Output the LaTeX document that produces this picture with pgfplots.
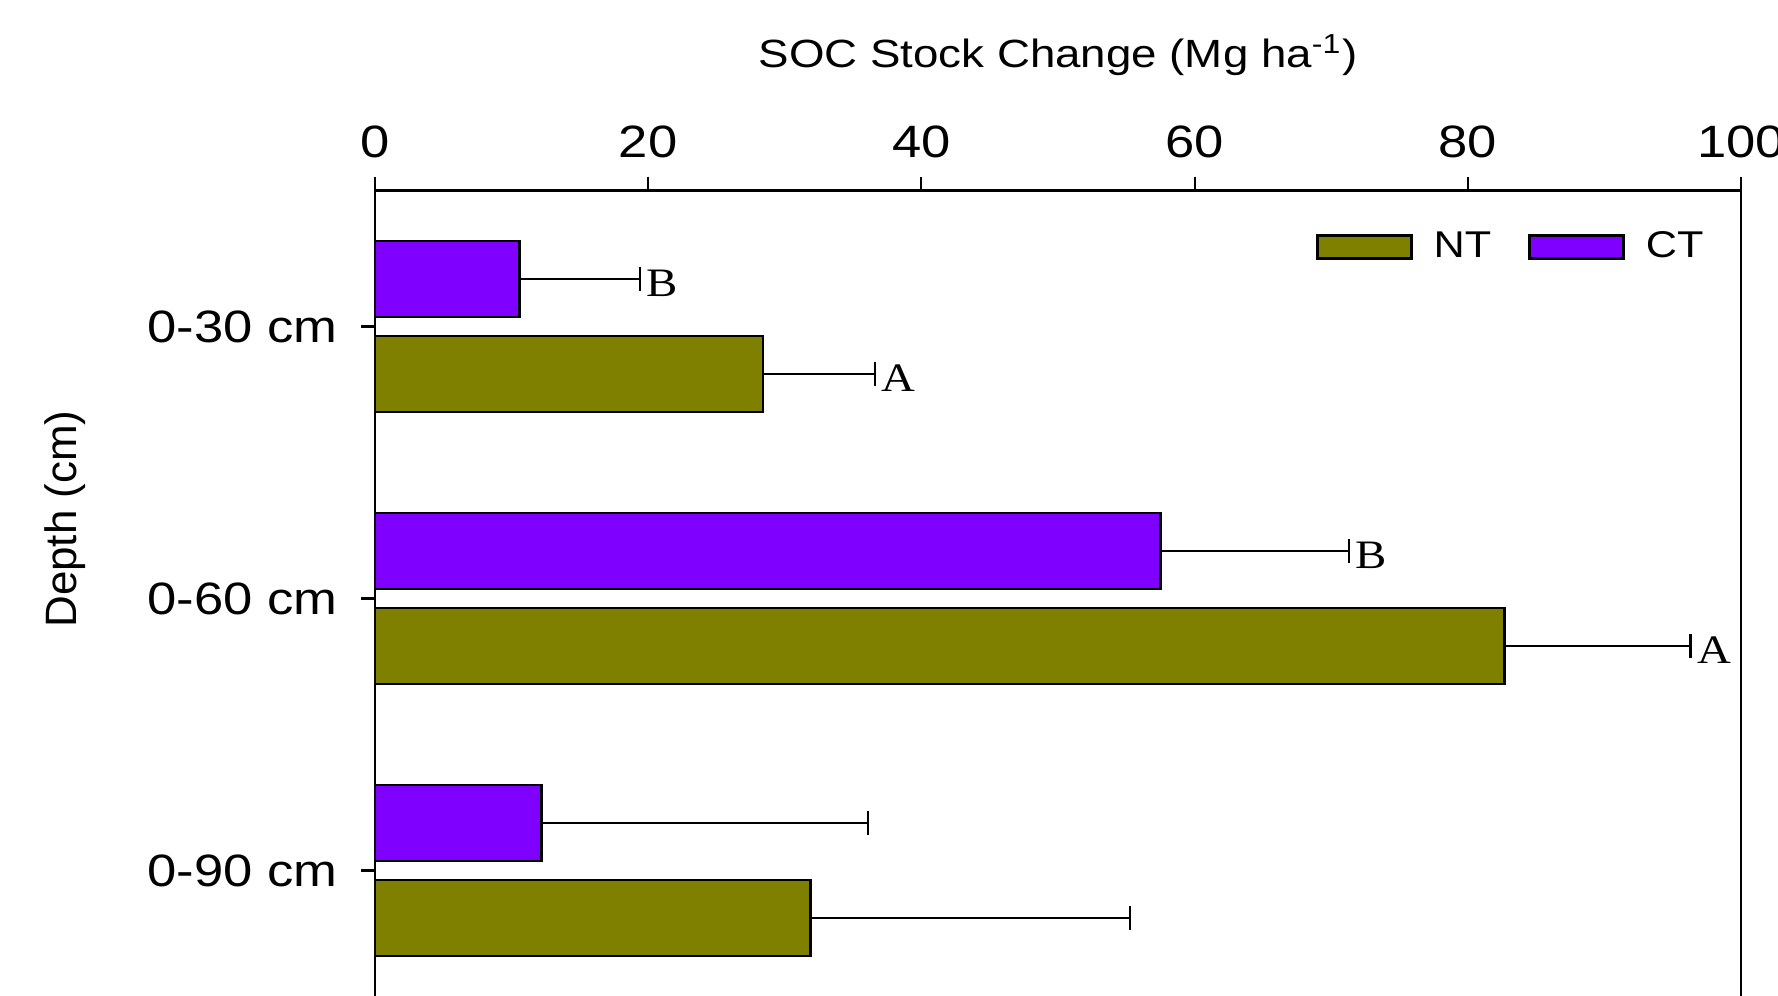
\documentclass[border=0pt]{standalone}
\usepackage{pgfplots}
\pgfplotsset{compat=1.18}
\usepackage{fontspec}
\setmainfont{Liberation Sans}[FakeStretch=1.16]
\newfontfamily\plainsans{Liberation Sans}
\newfontfamily\seriffont{Liberation Serif}[FakeStretch=1.16]
\definecolor{ntc}{RGB}{128,128,0}
\definecolor{ctc}{RGB}{128,0,255}
\begin{document}
\begin{tikzpicture}
\begin{axis}[
  at={(0,0)}, anchor=north west, scale only axis,
  width=13.66cm, height=8.16cm,
  xmin=0, xmax=100, ymin=-0.5, ymax=2.5,
  axis line style={line width=0.65pt},
  xtick={0,20,40,60,80,100},
  xtick pos=upper, xticklabel pos=upper,
  ytick={0,1,2}, yticklabels={0-90 cm,0-60 cm,0-30 cm},
  ytick pos=left,
  tick align=outside,
  major tick length=0.14cm,
  tick style={line width=0.6pt, black},
  /pgf/number format/assume math mode=true,
  ticklabel style={font=\fontsize{12.9}{15}\selectfont},
  xticklabel style={yshift=0.06cm},
  yticklabel style={xshift=-0.11cm},
  xlabel={SOC Stock Change (Mg ha\textsuperscript{-1})},
  xlabel style={at={(axis description cs:0.5,1)}, anchor=center, yshift=1.35cm, font=\fontsize{11.2}{13}\selectfont},
  ylabel={Depth (cm)},
  ylabel style={at={(axis description cs:-0.2269,0.5974)}, anchor=center, font=\plainsans\fontsize{12.5}{15}\selectfont},
  legend style={at={(axis description cs:0.986,0.9307)}, anchor=east, draw=none, fill=none,
    legend columns=2, font=\fontsize{10.6}{12}\selectfont,
    /tikz/every odd column/.append style={column sep=0.14cm},
    /tikz/every even column/.append style={column sep=0.30cm}},
]
\addplot[xbar, bar width=0.76cm, bar shift=0pt, fill=ntc, draw=black, line width=0.75pt,
  legend image code/.code={\draw[fill=ntc, draw=black, line width=0.75pt] (0cm,-0.115cm) rectangle (0.94cm,0.115cm);},
  error bars/.cd, x dir=plus, x explicit, error mark=|,
  error bar style={line width=0.45pt, black},
  error mark options={line width=0.6pt, mark size=0.12cm, black}]
  coordinates {(28.4,1.825) +- (8.2,0) (82.7,0.825) +- (13.6,0) (31.9,-0.175) +- (23.4,0)};
\addlegendentry{NT}
\addplot[xbar, bar width=0.76cm, bar shift=0pt, fill=ctc, draw=black, line width=0.75pt,
  legend image code/.code={\draw[fill=ctc, draw=black, line width=0.75pt] (0cm,-0.115cm) rectangle (0.94cm,0.115cm);},
  error bars/.cd, x dir=plus, x explicit, error mark=|,
  error bar style={line width=0.45pt, black},
  error mark options={line width=0.6pt, mark size=0.12cm, black}]
  coordinates {(10.6,2.175) +- (8.8,0) (57.5,1.175) +- (13.8,0) (12.2,0.175) +- (23.9,0)};
\addlegendentry{CT}
\addplot[only marks, mark=none, forget plot, point meta=explicit symbolic, nodes near coords,
  nodes near coords style={anchor=west, inner sep=0.06cm, yshift=-0.04cm, font=\seriffont\fontsize{11.5}{12}\selectfont}]
  coordinates {(36.6,1.825)[A] (19.4,2.175)[B] (96.3,0.825)[A] (71.3,1.175)[B]};
\end{axis}
\pgfresetboundingbox
\path[use as bounding box] (-3.75cm,1.905cm) rectangle (14.03cm,-8.055cm);
\end{tikzpicture}
\end{document}
